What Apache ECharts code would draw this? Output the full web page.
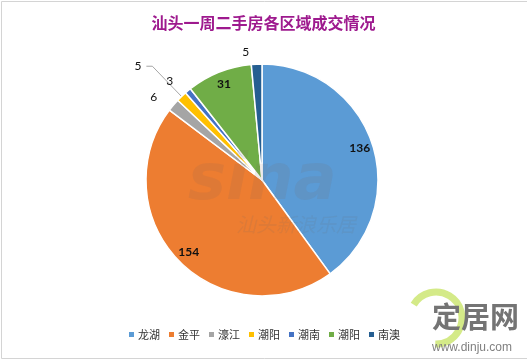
<!DOCTYPE html>
<html><head><meta charset="utf-8">
<script src="https://cdn.jsdelivr.net/npm/echarts@6/dist/echarts.min.js"></script>
<style>html,body{margin:0;padding:0;background:#fff}#c{width:527px;height:362px}</style>
</head><body><div id="c"></div>
<script>
const categories = ['龙湖','金平','濠江','潮阳','潮南','潮阳','南澳'];
const values = [136,154,6,5,3,31,5];
const colors = ['#5B9BD5','#ED7D31','#A5A5A5','#FFC000','#4472C4','#70AD47','#255E91'];
const titleText = '汕头一周二手房各区域成交情况';

const keyOf = i => categories[i] + '|' + i;
const big = v => v >= 20;
const R = 116;
const mainData = values.map((v,i)=>({
  name:keyOf(i), value:v,
  itemStyle:{color:colors[i]},
  label:{show:!big(v)},
  labelLine: i===3 ? {show:true,length:42,length2:6} : {show:false,length:12,length2:2}
}));
const labelData = values.map((v,i)=>({
  name:keyOf(i), value:v,
  label:{show:big(v)}
}));
const chart = echarts.init(document.getElementById('c'));
chart.setOption({
  backgroundColor:'#fff',
  animation:false,
  title:{text:titleText,left:'center',top:10,textStyle:{color:'#9E1A8E',fontSize:16,fontWeight:'bold',fontFamily:'Noto Sans CJK SC'}},
  legend:{bottom:17,left:'center',itemWidth:7,itemHeight:7,itemGap:7,icon:'rect',
    formatter:n=>n.split('|')[0],
    textStyle:{fontSize:11,color:'#333',fontFamily:'Noto Sans CJK SC',padding:[0,0,0,-2]},
    data:values.map((v,i)=>keyOf(i))},
  graphic:[
    {type:'rect',shape:{x:1.5,y:1.5,width:540,height:357},style:{fill:'none',stroke:'#d4d4d4',lineWidth:1},z:-10,silent:true},
    {type:'text',left:188,top:150,z:100,silent:true,style:{text:'sina',font:'italic bold 64px "DejaVu Sans"',fill:'rgba(120,100,90,0.13)'}},
    {type:'text',left:236,top:214,z:100,silent:true,style:{text:'汕头新浪乐居',font:'italic 20px "Noto Sans CJK SC"',fill:'rgba(110,110,110,0.13)'}},
    {type:'arc',shape:{cx:436,cy:318,r:26,startAngle:-2.6,endAngle:1.6},style:{fill:'none',stroke:'#C9E56A',lineWidth:7,opacity:0.8},z:-5,silent:true},
    {type:'text',left:432,top:302,z:-4,silent:true,style:{text:'定居网',font:'bold 29px "Noto Sans CJK SC"',fill:'#747474'}},
    {type:'text',left:432,top:342,z:-4,silent:true,style:{text:'www.dinju.com',font:'12px "Liberation Sans"',fill:'#808080'}}
  ],
  series:[
    {type:'pie',center:[262,180],radius:[0,R],startAngle:90,clockwise:true,avoidLabelOverlap:false,
      itemStyle:{borderColor:'#fff',borderWidth:1.5},
      label:{position:'outside',formatter:'{c}',fontSize:12,color:'#111',fontFamily:'Lato'},
      labelLine:{lineStyle:{color:'#a6a6a6',width:1}},
      data:mainData},
    {type:'pie',center:[262,180],radius:[R*0.72,R],startAngle:90,clockwise:true,silent:true,
      legendHoverLink:false,
      itemStyle:{color:'rgba(0,0,0,0)',borderWidth:0},
      label:{position:'inside',formatter:'{c}',fontSize:12,fontWeight:'bold',color:'#111',fontFamily:'Lato'},
      labelLine:{show:false},
      data:labelData}
  ]
});
</script></body></html>
